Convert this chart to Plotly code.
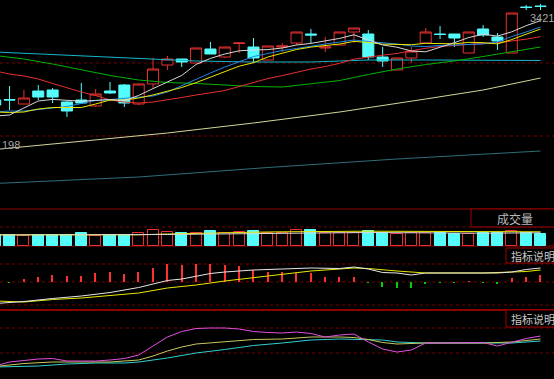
import plotly.graph_objects as go

# ---------------- data ----------------
idx = list(range(39))
opens  = [3229,3230,3221,3247,3249,3225,3229,3217,3247,3259,3221,3261,3299,3311,3303,3331,3315,3342,3335,3309,
          3335,3343,3361,3333,3339,3365,3361,3315,3289,3313,3343,3361,3361,3323,3371,3355,3323,3415,3417]
highs  = [3233,3257,3249,3259,3253,3227,3263,3251,3265,3261,3263,3313,3317,3311,3333,3345,3335,3345,3353,3337,
          3343,3365,3371,3355,3365,3373,3369,3335,3313,3335,3373,3377,3361,3365,3379,3363,3403,3419,3421]
lows   = [3215,3209,3221,3229,3223,3195,3221,3215,3241,3215,3219,3253,3289,3295,3303,3321,3313,3323,3303,3309,
          3325,3339,3343,3325,3339,3343,3309,3295,3289,3303,3343,3351,3335,3323,3355,3329,3323,3409,3409]
closes = [3219,3229,3233,3235,3235,3207,3223,3241,3243,3223,3261,3291,3311,3305,3333,3321,3335,3343,3313,3337,
          3337,3365,3359,3335,3365,3373,3315,3307,3313,3327,3365,3360,3353,3365,3359,3347,3403,3414,3416]

ma5 = [3197,3199,3213,3227,3230.2,3227.8,3226.6,3228.2,3229.8,3227.4,3238.2,3251.8,3265.8,3278.2,3300.2,3312.2,
       3321,3327.4,3329,3329.8,3333,3339,3342.2,3346.6,3352.2,3359.4,3349.4,3339,3334.6,3327,3325.4,3334.4,
       3343.6,3354,3360.4,3356.8,3365.4,3377.6,3387.8]
ma10 = [3205,3204,3205,3211,3214,3214,3214,3221,3229,3228.8,3233,3239.2,3247,3254,3263.8,3275.2,3286.4,3296.6,
        3303.6,3315,3322.6,3330,3334.8,3337.8,3341,3346.2,3344.2,3340.6,3340.6,3339.6,3342.4,3341.9,3341.3,
        3344.3,3343.7,3341.1,3349.9,3360.6,3370.9]
ma_blue = [3205,3207,3207,3210,3212,3216,3222,3228,3230,3232,3234,3237,3245,3258,3271,3283,3295,3306,3316,3322,
           3328,3332,3337,3341,3345,3349,3346,3344,3341,3337,3336,3338,3339,3339,3341,3345,3356,3365,3375]
ma20 = [3287,3281,3277,3271,3262,3253,3245,3238,3229,3225,3223,3225,3229,3234,3239,3243,3248,3256,3264,3271.9,
        3277.8,3284.6,3290.9,3295.9,3302.4,3310.7,3315.3,3318.6,3322.1,3327.3,3332.5,3335.9,3338.0,3341.0,
        3342.3,3343.6,3347.0,3350.6,3355.7]
green_x = [0,2,4,6,8,10,12,14,16,18,20,22,24,26,28,30,32,34,36,38]
ma60 = [3318,3311,3301,3289,3278,3269,3264,3262,3259,3256,3255,3261,3268,3280,3291,3300,3307,3316,3325,3335]
cyan_x = [0,4,8,12,14,18,22,24,26,30,34,38]
ma_cyan = [3325,3320,3316,3310,3307,3305,3305,3307,3309,3309,3308,3308]
tan_x = [0,6,12,18,24,30,34,38]
ma_tan = [3130,3147,3163,3183,3205,3231,3249,3273]
teal_x = [0,10,19,28,38]
ma_teal = [3062,3075,3094,3111,3127]

volume = [110,110,100,110,110,110,127,100,110,110,127,160,137,133,127,150,127,143,150,133,
          133,160,160,133,133,133,150,133,120,127,127,127,120,120,127,127,150,127,120]
vol_x = [0,2,4,6,8,10,12,14,16,18,20,22,24,26,28,30,32,34,36,38]
vol_ma5 = [110,110,110,110,110,111,115,118,122,126,130,133,135,135,133,130,128,128,130,132]
vol_ma10 = [112,112,111,110,110,112,120,128,133,138,142,146,148,148,147,146,145,144,143,142]

macd_hist = [0,-1,3,5.3,7,6,6.3,8.7,9.7,8,10.3,13.7,17.7,17,18,18,17,16,12,10.3,
             9.7,8.7,8.7,5.3,5.3,5.3,-1,-4.7,-6.3,-5.7,-2,-0.7,-0.8,1,-0.5,-1.3,3.7,5.3,7]
dif_x = [0,2,4,6,8,10,11,12,13,14,15,16,18,20,22,24,25,26,27,28,29,30,32,34,35,36,37,38]
dif = [-21.5,-19.5,-16.5,-14,-10.5,-5.5,-2,1.5,3,6,8.5,10,12,13,14,13.5,15,13,9.5,9,7,9,9,9,9,10,12.5,14]
dea_x = [0,2,4,6,8,10,12,14,16,18,20,22,24,25,26,27,28,30,32,34,36,37,38]
dea = [-19,-20,-17.5,-16,-13.5,-11,-6,-3,1,4.5,8,11,13,14,13.5,12,11,9,9,9,10,10.5,12]

kdj_j = [34.4,39.2,41,42.8,43.4,40.4,40.4,40.4,41.6,43.4,47.6,58.4,69.2,75.8,79.4,80,80,78.8,75.8,74.6,
         74,75.2,73.4,69.2,71.6,72.8,63.2,54.8,51.2,53.6,62,62,62,62,62.6,58.4,63.2,67.4,70.4]
kdj_d_x = [0,2,4,6,8,10,11,12,13,14,16,18,20,22,24,25,26,27,28,30,32,34,36,38]
kdj_d = [33.8,37.4,39.2,39.2,39.2,41.6,46.4,52.4,57.2,60.8,63.2,66.2,66.8,69.2,69.2,68.6,66.2,62.6,60.8,62,62,62,63.2,66.8]
kdj_k_x = [0,3,5,7,9,10,12,14,16,18,20,22,24,26,27,28,30,34,36,38]
kdj_k = [33.2,34.4,36.8,38,38,39.2,44,50,54.2,59,62,65.6,66.8,66.2,65.6,63.2,62,62,62,64.4]

# ---------------- style ----------------
RED = "#e83030"
CYAN = "#54fcfc"
GRID = "#7a0000"
H = 379.0

def py(p):
    return 1 - p / H

fig = go.Figure()

fig.add_trace(go.Candlestick(
    x=idx, open=opens, high=highs, low=lows, close=closes,
    increasing=dict(line=dict(color=RED, width=1), fillcolor="#000000"),
    decreasing=dict(line=dict(color=CYAN, width=1), fillcolor=CYAN),
    whiskerwidth=0, hoverinfo="skip", yaxis="y"))

def line(x, y, color, ax, w=1):
    fig.add_trace(go.Scatter(x=x, y=y, mode="lines", line=dict(color=color, width=w),
                             hoverinfo="skip", yaxis=ax))

line(teal_x, ma_teal, "#2e6e78", "y")
line(tan_x, ma_tan, "#d4d49a", "y")
line(cyan_x, ma_cyan, "#14b8cc", "y")
line(green_x, ma60, "#00b400", "y")
line(idx, ma20, "#e8302f", "y")
line(idx, ma_blue, "#1e88e5", "y")
line(idx, ma10, "#e8e800", "y")
line(idx, ma5, "#d8d8d8", "y")

# volume
up = [c >= o for o, c in zip(opens, closes)]
fig.add_trace(go.Bar(x=idx, y=volume, width=0.77, yaxis="y2", hoverinfo="skip",
                     marker=dict(color=["#000000" if u else CYAN for u in up],
                                 line=dict(color=[RED if u else CYAN for u in up], width=1))))
line(vol_x, vol_ma10, "#e8e800", "y2")
line(vol_x, vol_ma5, "#d8d8d8", "y2")

# macd
fig.add_trace(go.Bar(x=idx, y=macd_hist, width=0.1, yaxis="y3", hoverinfo="skip",
                     marker=dict(color=["#ff3030" if v >= 0 else "#00d000" for v in macd_hist], line=dict(width=0))))
line(dea_x, dea, "#e8e800", "y3")
line(dif_x, dif, "#e8e8e8", "y3")

# kdj
line(kdj_k_x, kdj_k, "#30d0d0", "y4")
line(kdj_d_x, kdj_d, "#c8c860", "y4")
line(idx, kdj_j, "#e050e0", "y4")

shapes = []
for p in [63, 136, 227, 264, 282, 305, 328, 353]:
    shapes.append(dict(type="line", xref="paper", yref="paper", x0=0, x1=1, y0=py(p), y1=py(p),
                       line=dict(color=GRID, width=1, dash="dot"), layer="below"))
for p, w in [(209, 1), (246, 1), (310, 2)]:
    shapes.append(dict(type="line", xref="paper", yref="paper", x0=0, x1=1, y0=py(p), y1=py(p),
                       line=dict(color="#900000", width=w), layer="below"))
for (x0, y0, y1) in [(471, 209, 227), (506, 248, 263), (506, 310, 327)]:
    shapes.append(dict(type="rect", xref="paper", yref="paper", x0=x0 / 554, x1=1.01, y0=py(y1), y1=py(y0),
                       line=dict(color="#a00000", width=1), fillcolor="#000000", layer="above"))

font_cjk = "Noto Sans CJK SC"
annotations = [
    dict(text="成交量", x=515 / 554, y=py(218), xref="paper", yref="paper", xanchor="center", yanchor="middle",
         showarrow=False, font=dict(family=font_cjk, size=12, color="#b8b8b8")),
    dict(text="指标说明", x=509 / 554, y=py(255.5), xref="paper", yref="paper", xanchor="left", yanchor="middle",
         showarrow=False, font=dict(family=font_cjk, size=11, color="#c8c8c8")),
    dict(text="指标说明", x=509 / 554, y=py(318.5), xref="paper", yref="paper", xanchor="left", yanchor="middle",
         showarrow=False, font=dict(family=font_cjk, size=11, color="#c8c8c8")),
    dict(text="3421", x=528 / 554, y=py(17.5), xref="paper", yref="paper", xanchor="left", yanchor="middle",
         showarrow=False, font=dict(family="Liberation Sans", size=11, color="#a8a8a8")),
    dict(text="198", x=0, y=py(145), xref="paper", yref="paper", xanchor="left", yanchor="middle",
         showarrow=False, font=dict(family="Liberation Sans", size=11, color="#a8a8a8")),
]

noax = dict(visible=False, showgrid=False, zeroline=False, fixedrange=True)
fig.update_layout(
    width=554, height=379, margin=dict(l=0, r=0, t=0, b=0),
    paper_bgcolor="#000000", plot_bgcolor="#000000", showlegend=False,
    boxgap=0.23, boxgroupgap=0, bargap=0,
    xaxis=dict(range=[0.3345, 38.94], rangeslider=dict(visible=False), **noax),
    yaxis=dict(domain=[py(209), 1], range=[3011, 3429], **noax),
    yaxis2=dict(domain=[py(246), py(209)], range=[0, 370], **noax),
    yaxis3=dict(domain=[py(310), py(246)], range=[-28, 36], **noax),
    yaxis4=dict(domain=[0, py(310)], range=[18.8, 101.6], **noax),
    shapes=shapes, annotations=annotations,
)

fig.write_html("out.html")
